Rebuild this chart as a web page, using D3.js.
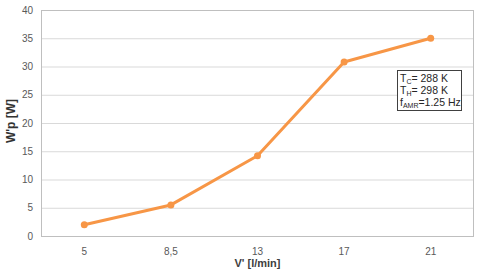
<!DOCTYPE html>
<html>
<head>
<meta charset="utf-8">
<script src="https://cdn.jsdelivr.net/npm/d3@7"></script>
<style>
  body { margin: 0; background: #fff; }
  text { font-family: "Liberation Sans", Arial, sans-serif; }
</style>
</head>
<body>
<div id="chart"></div>
<script>
// data
const flowRates = ["5", "8,5", "13", "17", "21"];
const powerValues = [2.0, 5.5, 14.2, 30.8, 35.0];
const yTicks = [0, 5, 10, 15, 20, 25, 30, 35, 40];

const svgWidth = 480;
const svgHeight = 275;

const chartMargin = { top: 10, right: 6, bottom: 39, left: 41 };
const chartWidth = svgWidth - chartMargin.left - chartMargin.right;
const chartHeight = svgHeight - chartMargin.top - chartMargin.bottom;

const svg = d3.select("#chart")
  .append("svg")
  .attr("width", svgWidth)
  .attr("height", svgHeight);

const chartGroup = svg.append("g")
  .attr("transform", `translate(${chartMargin.left}, ${chartMargin.top})`);

const xScale = d3.scaleBand()
  .domain(flowRates)
  .range([0, chartWidth]);

const yScale = d3.scaleLinear()
  .domain([0, 40])
  .range([chartHeight, 0]);

// gridlines
chartGroup.append("g")
  .selectAll("line")
  .data(yTicks)
  .enter()
  .append("line")
  .attr("x1", 0)
  .attr("x2", chartWidth)
  .attr("y1", d => yScale(d) + 0.5)
  .attr("y2", d => yScale(d) + 0.5)
  .attr("stroke", "#d9d9d9")
  .attr("stroke-width", 1);

// plot border
chartGroup.append("rect")
  .attr("x", 0.5)
  .attr("y", 0.5)
  .attr("width", chartWidth - 1)
  .attr("height", chartHeight)
  .attr("fill", "none")
  .attr("stroke", "#bfbfbf");

// axes
const leftAxis = d3.axisLeft(yScale).tickValues(yTicks).tickSize(0).tickPadding(8);
const bottomAxis = d3.axisBottom(xScale).tickSize(0).tickPadding(12);

const yAxisG = chartGroup.append("g").call(leftAxis);
yAxisG.select(".domain").remove();
yAxisG.selectAll("text")
  .attr("fill", "#595959")
  .attr("font-size", "10px")
  .style("font-family", "'Liberation Sans', Arial, sans-serif");

const xAxisG = chartGroup.append("g")
  .attr("transform", `translate(0,${chartHeight})`)
  .call(bottomAxis);
xAxisG.select(".domain").remove();
xAxisG.selectAll("text")
  .attr("fill", "#595959")
  .attr("font-size", "10px")
  .style("font-family", "'Liberation Sans', Arial, sans-serif");

// axis titles
svg.append("text")
  .attr("transform", `translate(15, 121) rotate(-90)`)
  .attr("text-anchor", "middle")
  .attr("font-size", "12px")
  .attr("font-weight", "bold")
  .attr("fill", "#333")
  .text("W'p [W]");

svg.append("text")
  .attr("x", chartMargin.left + chartWidth / 2)
  .attr("y", 267)
  .attr("text-anchor", "middle")
  .attr("font-size", "11px")
  .attr("font-weight", "bold")
  .attr("fill", "#404040")
  .text("V' [l/min]");

// line and markers
const points = flowRates.map((c, i) => ({ cat: c, value: powerValues[i] }));
const xPos = d => xScale(d.cat) + xScale.bandwidth() / 2;

const line = d3.line()
  .x(xPos)
  .y(d => yScale(d.value));

chartGroup.append("path")
  .datum(points)
  .attr("d", line)
  .attr("fill", "none")
  .attr("stroke", "#f79646")
  .attr("stroke-width", 3)
  .attr("stroke-linejoin", "round");

chartGroup.selectAll(".pt")
  .data(points)
  .enter()
  .append("circle")
  .attr("class", "pt")
  .attr("cx", xPos)
  .attr("cy", d => yScale(d.value))
  .attr("r", 3.5)
  .attr("fill", "#f79646");

// annotation box
const note = svg.append("g").attr("transform", "translate(397, 70)");
note.append("rect")
  .attr("x", 0.5)
  .attr("y", 0.5)
  .attr("width", 64)
  .attr("height", 40)
  .attr("fill", "#fff")
  .attr("stroke", "#404040");

const noteLines = [
  { main: "T", sub: "C", rest: "= 288 K" },
  { main: "T", sub: "H", rest: "= 298 K" },
  { main: "f", sub: "AMR", rest: "=1.25 Hz" }
];

noteLines.forEach((l, i) => {
  const t = note.append("text")
    .attr("x", 3)
    .attr("y", 12 + i * 12)
    .attr("font-size", "10.5px")
    .attr("fill", "#262626");
  t.append("tspan").text(l.main);
  t.append("tspan").attr("font-size", "7px").attr("dy", 2).text(l.sub);
  t.append("tspan").attr("dy", -2).text(l.rest);
});
</script>
</body>
</html>
